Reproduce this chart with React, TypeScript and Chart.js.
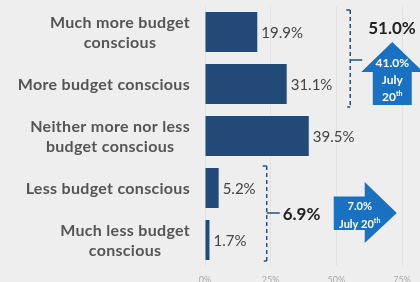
import React, { useEffect, useRef } from "react";
import { Chart, registerables } from "chart.js";

Chart.register(...registerables);

const categories: string[][] = [
  ["Much more budget", "conscious"],
  ["More budget conscious"],
  ["Neither more nor less", "budget conscious"],
  ["Less budget conscious"],
  ["Much less budget", "conscious"],
];
const values: number[] = [19.9, 31.1, 39.5, 5.2, 1.7];
const valueLabels: string[] = ["19.9%", "31.1%", "39.5%", "5.2%", "1.7%"];
const xTickMax = 75;
const xTickStep = 25;
const moreTotal = "51.0%";
const moreJuly: string[] = ["41.0%", "July", "20|th"];
const lessTotal = "6.9%";
const lessJuly: string[] = ["7.0%", "July 20|th"];

const FONT = "Lato, 'Open Sans', sans-serif";
const BAR = "#224a78";
const ARROW = "#1a71c2";
const BRACKET = "#2d4f78";

function drawSupText(ctx: CanvasRenderingContext2D, text: string, cx: number, cy: number, size: number) {
  const [base, sup] = text.split("|");
  const bigF = `bold ${size}px ${FONT}`;
  const smallF = `bold ${Math.round(size * 0.6)}px ${FONT}`;
  ctx.font = bigF;
  const wb = ctx.measureText(base).width;
  let ws = 0;
  if (sup) {
    ctx.font = smallF;
    ws = ctx.measureText(sup).width;
  }
  const x0 = cx - (wb + ws) / 2;
  ctx.textAlign = "left";
  ctx.textBaseline = "middle";
  ctx.font = bigF;
  ctx.fillText(base, x0, cy);
  if (sup) {
    ctx.font = smallF;
    ctx.fillText(sup, x0 + wb, cy - size * 0.3);
  }
}

function drawBracket(ctx: CanvasRenderingContext2D, bx: number, top: number, bottom: number, mid: number, tick: number) {
  ctx.strokeStyle = BRACKET;
  ctx.lineWidth = 1.5;
  ctx.setLineDash([4, 3]);
  ctx.beginPath();
  ctx.moveTo(bx, top);
  ctx.lineTo(bx, bottom);
  ctx.stroke();
  ctx.setLineDash([]);
  ctx.beginPath();
  ctx.moveTo(bx - 4, top);
  ctx.lineTo(bx, top);
  ctx.moveTo(bx - 3, bottom);
  ctx.lineTo(bx, bottom);
  ctx.moveTo(bx, mid);
  ctx.lineTo(bx + tick, mid);
  ctx.stroke();
}

const annotations = {
  id: "annotations",
  afterDatasetsDraw(chart: any) {
    const { ctx, chartArea, scales } = chart;
    const xs = scales.x;
    const ys = scales.y;
    const meta = chart.getDatasetMeta(0);
    ctx.save();

    // category labels
    categories.forEach((lines, i) => {
      const cy = ys.getPixelForValue(i) + 1;
      ctx.font = `bold 16px ${FONT}`;
      (ctx as any).letterSpacing = "0.3px";
      const w = Math.max(...lines.map((l) => ctx.measureText(l).width));
      const cx = chartArea.left - 15 - w / 2;
      ctx.fillStyle = "#555555";
      ctx.textAlign = "center";
      ctx.textBaseline = "middle";
      lines.forEach((l, j) => ctx.fillText(l, cx, cy + (j - (lines.length - 1) / 2) * 20));
    });
    (ctx as any).letterSpacing = "0px";

    // value labels
    meta.data.forEach((bar: any, i: number) => {
      ctx.font = `15px ${FONT}`;
      ctx.fillStyle = "#444444";
      ctx.textAlign = "left";
      ctx.textBaseline = "middle";
      ctx.fillText(valueLabels[i], bar.x + 4, bar.y + 1);
    });

    // upper bracket (first two categories)
    const y0 = ys.getPixelForValue(0);
    const y1 = ys.getPixelForValue(1);
    const ub = xs.getPixelForValue(55.3);
    const umid = (y0 + y1) / 2 + 2;
    drawBracket(ctx, ub, y0 - 22, y1 + 23, umid, 12);
    ctx.fillStyle = "#222222";
    ctx.font = `bold 17px ${FONT}`;
    ctx.textAlign = "left";
    ctx.textBaseline = "middle";
    ctx.fillText(moreTotal, ub + 18, y0 - 3);

    // up arrow
    const acx = ub + 42;
    const atop = umid - 18;
    const ahb = umid + 12;
    const abot = umid + 45;
    ctx.fillStyle = ARROW;
    ctx.beginPath();
    ctx.moveTo(acx, atop);
    ctx.lineTo(acx + 31, ahb);
    ctx.lineTo(acx + 19.5, ahb);
    ctx.lineTo(acx + 19.5, abot);
    ctx.lineTo(acx - 19.5, abot);
    ctx.lineTo(acx - 19.5, ahb);
    ctx.lineTo(acx - 31, ahb);
    ctx.closePath();
    ctx.fill();
    ctx.fillStyle = "#ffffff";
    moreJuly.forEach((t, j) => drawSupText(ctx, t, acx, umid + 3 + j * 17, 12));

    // lower bracket (last two categories)
    const y3 = ys.getPixelForValue(3);
    const y4 = ys.getPixelForValue(4);
    const lb = xs.getPixelForValue(23.5);
    const lmid = (y3 + y4) / 2 - 1;
    drawBracket(ctx, lb, y3 - 22, y4 + 21, lmid, 13);
    ctx.fillStyle = "#222222";
    ctx.font = `bold 17px ${FONT}`;
    ctx.textAlign = "left";
    ctx.textBaseline = "middle";
    ctx.fillText(lessTotal, lb + 16, lmid + 2);

    // right arrow
    const rl = lb + 67;
    const rhb = lb + 98;
    const rtip = lb + 130;
    ctx.fillStyle = ARROW;
    ctx.beginPath();
    ctx.moveTo(rl, lmid - 16.5);
    ctx.lineTo(rhb, lmid - 16.5);
    ctx.lineTo(rhb, lmid - 31);
    ctx.lineTo(rtip, lmid);
    ctx.lineTo(rhb, lmid + 30);
    ctx.lineTo(rhb, lmid + 17);
    ctx.lineTo(rl, lmid + 17);
    ctx.closePath();
    ctx.fill();
    ctx.fillStyle = "#ffffff";
    lessJuly.forEach((t, j) => drawSupText(ctx, t, rl + 26, lmid - 7 + j * 18, 11));

    ctx.restore();
  },
};

export default function App() {
  const ref = useRef<HTMLCanvasElement | null>(null);
  useEffect(() => {
    document.body.style.margin = "0";
    const canvas = ref.current;
    if (!canvas) return;
    const chart = new Chart(canvas, {
      type: "bar",
      data: {
        labels: categories.map((c) => c.join(" ")),
        datasets: [
          {
            data: values,
            backgroundColor: BAR,
            barPercentage: 1,
            categoryPercentage: 0.77,
          },
        ],
      },
      options: {
        indexAxis: "y",
        responsive: false,
        animation: false,
        layout: { padding: { left: 205, right: 18, top: 6, bottom: 0 } },
        plugins: { legend: { display: false }, tooltip: { enabled: false } },
        scales: {
          x: {
            min: 0,
            max: xTickMax,
            afterFit: (scale: any) => {
              scale.height = 26;
            },
            ticks: {
              stepSize: xTickStep,
              callback: (v: any) => v + "%",
              font: { size: 9, family: FONT },
              color: "#aaaaaa",
              padding: 9,
            },
            grid: { color: "#e2e2e2", drawTicks: false },
            border: { display: false },
          },
          y: { display: false },
        },
      },
      plugins: [annotations],
    } as any);
    return () => chart.destroy();
  }, []);
  return (
    <div style={{ width: 420, height: 282, overflow: "hidden", background: "#eeeeee" }}>
      <canvas ref={ref} width={420} height={292} style={{ display: "block" }} />
    </div>
  );
}
